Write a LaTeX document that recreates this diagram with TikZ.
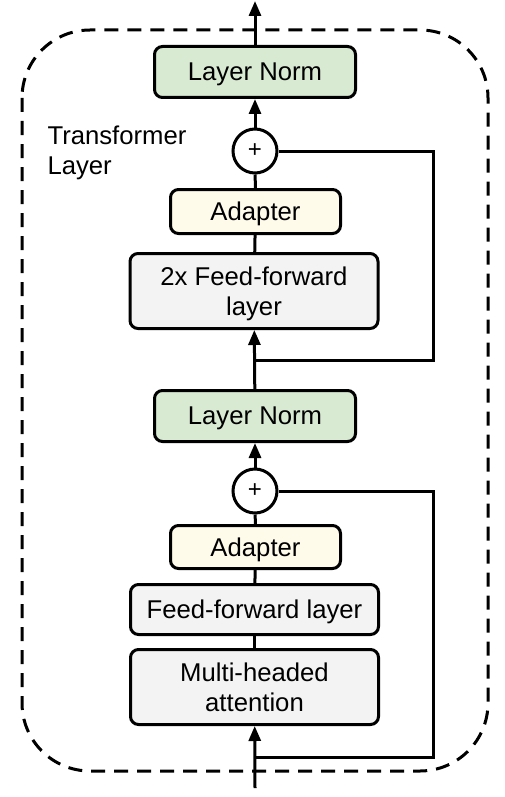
\documentclass[tikz,border=0pt]{standalone}
\usepackage{fontspec}
\setmainfont{Liberation Sans}
\usetikzlibrary{arrows.meta}
\definecolor{lngreen}{HTML}{D9EAD3}
\definecolor{adyellow}{HTML}{FFFBEB}
\definecolor{ffgray}{HTML}{F3F3F3}
\begin{document}
\begin{tikzpicture}[x=1pt,y=-1pt,line width=3pt,line join=miter,
  txt/.style={font=\fontsize{25.7}{30}\selectfont},
  box/.style={draw,rounded corners=8pt,align=center,inner sep=0pt,text depth=0pt,txt},
  lnbox/.style={box,fill=lngreen,minimum width=201pt,minimum height=51pt},
  adbox/.style={box,fill=adyellow,minimum width=170pt,minimum height=44pt},
  ffbox/.style={box,fill=ffgray,minimum width=248pt},
  plusnode/.style={draw,circle,fill=white,minimum size=44pt,inner sep=0pt,font=\fontsize{24}{28}\selectfont},
  arr/.style={-{Triangle[length=15pt,width=12pt]}}]
\useasboundingbox (0,0) rectangle (504,797);
\draw[dash pattern=on 14pt off 9pt,rounded corners=68pt] (22,30) rectangle (488,771);
\node[txt,align=left,anchor=north west,inner sep=0pt] (lbl) at (46,124.5) {Transformer\\Layer};
\node[lnbox] (ln1) at (255,72) {Layer Norm};
\node[plusnode] (plus1) at (255,151) {+};
\node[adbox] (ad1) at (255.5,211.5) {Adapter};
\node[ffbox,minimum height=75pt] (ff2) at (254,291) {2x Feed-forward\\layer};
\node[lnbox] (ln2) at (255,416) {Layer Norm};
\node[plusnode] (plus2) at (255,491) {+};
\node[adbox,minimum height=43pt] (ad2) at (255.5,547) {Adapter};
\node[ffbox,minimum height=50pt] (ff1) at (254.5,609.5) {Feed-forward layer};
\node[ffbox,minimum height=75pt] (mha) at (254.5,687) {Multi-headed\\attention};
\coordinate (out) at (255,1);
\coordinate (in) at (255,788);
\coordinate (s1) at (255,757);
\coordinate (s2) at (255,360);
\coordinate (rx) at (433,0);
\draw[arr] (ln1.north) -- (out);
\draw[arr] (plus1) -- (ln1);
\draw (ad1) -- (plus1);
\draw (ff2) -- (ad1);
\draw[arr] (ln2) -- (ff2);
\draw[arr] (plus2) -- (ln2);
\draw (ad2) -- (plus2);
\draw (ff1) -- (ad2);
\draw (mha) -- (ff1);
\draw[arr] (in) -- (mha);
\draw (s1) -| (rx |- plus2.east) -- (plus2.east);
\draw (s2) -| (rx |- plus1.east) -- (plus1.east);
\end{tikzpicture}
\end{document}
